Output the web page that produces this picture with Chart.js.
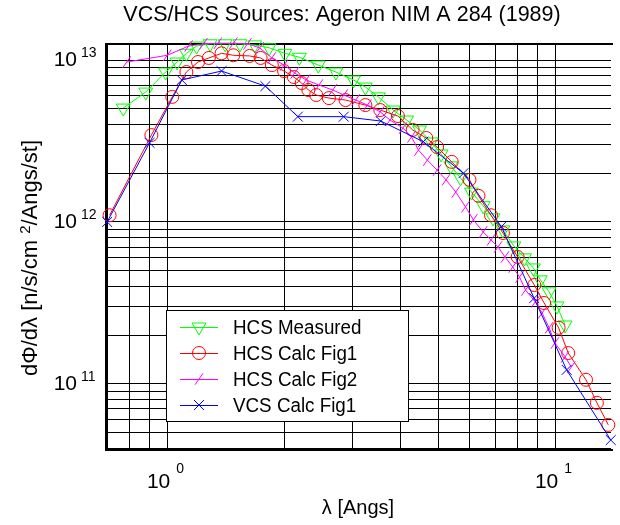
<!DOCTYPE html>
<html>
<head>
<meta charset="utf-8">
<script src="https://cdn.jsdelivr.net/npm/chart.js@4.4.0/dist/chart.umd.min.js"></script>
<style>
  html, body { margin: 0; padding: 0; background: #fff; }
</style>
</head>
<body>
<canvas id="myChart" width="620" height="525"></canvas>
<script>
// texts
const chartTitle = 'VCS/HCS Sources: Ageron NIM A 284 (1989)';
const xTitle = 'λ [Angs]';
const yTitleA = 'dΦ/dλ [n/s/cm ';
const yTitleSup = '2';
const yTitleB = '/Angs/st]';
const seriesNames = ['HCS Measured', 'HCS Calc Fig1', 'HCS Calc Fig2', 'VCS Calc Fig1'];

// axis ranges and labelled decades (10^n)
const xRange = [0.691, 13.92];
const yRange = [3.85e10, 1.274e13];
const xDecades = [0, 1];
const yDecades = [11, 12, 13];

// HCS Measured
const measLambda = [0.77, 0.88, 0.99, 1.06, 1.12, 1.19, 1.29, 1.41, 1.54, 1.68, 1.83, 2.01, 2.19, 2.45, 2.72, 3.02, 3.24, 3.50, 3.82, 4.14, 4.47, 4.79, 5.08, 5.38, 5.70, 6.08, 6.52, 6.91, 7.33, 7.82, 8.33, 8.78, 9.15, 9.64, 10.1, 10.6];
const measFlux = [5.05e12, 6.34e12, 8.43e12, 9.72e12, 1.10e13, 1.22e13, 1.26e13, 1.26e13, 1.26e13, 1.24e13, 1.19e13, 1.10e13, 1.04e13, 9.31e12, 8.43e12, 7.53e12, 6.81e12, 5.92e12, 4.91e12, 4.26e12, 3.70e12, 3.12e12, 2.63e12, 2.22e12, 1.87e12, 1.53e12, 1.26e12, 1.06e12, 8.93e11, 7.11e11, 6.00e11, 5.20e11, 4.39e11, 3.70e11, 3.03e11, 2.31e11];

// HCS Calc Fig1
const fig1Lambda = [0.71, 0.91, 1.03, 1.12, 1.20, 1.28, 1.38, 1.48, 1.63, 1.74, 1.86, 2.00, 2.12, 2.22, 2.31, 2.42, 2.61, 2.88, 3.24, 3.54, 3.93, 4.29, 4.65, 4.96, 5.41, 6.01, 6.34, 6.83, 7.33, 8.00, 8.83, 9.36, 10.2, 10.8, 12.0, 12.8, 13.7];
const fig1Flux = [1.10e12, 3.44e12, 5.92e12, 8.43e12, 9.72e12, 1.03e13, 1.10e13, 1.07e13, 1.06e13, 1.03e13, 9.31e12, 8.55e12, 7.85e12, 7.21e12, 6.53e12, 6.08e12, 5.82e12, 5.66e12, 5.27e12, 4.91e12, 4.51e12, 3.70e12, 3.30e12, 2.90e12, 2.35e12, 1.82e12, 1.45e12, 1.10e12, 8.55e11, 6.08e11, 4.08e11, 3.16e11, 2.22e11, 1.55e11, 1.06e11, 7.64e10, 5.58e10];

// HCS Calc Fig2
const fig2Lambda = [0.786, 1.00, 1.135, 1.24, 1.35, 1.48, 1.61, 1.73, 1.86, 2.00, 2.13, 2.28, 2.46, 2.67, 2.85, 3.06, 3.28, 3.54, 3.75, 4.05, 4.26, 4.44, 4.68, 4.96, 5.23, 5.54, 5.87, 6.15, 6.52, 6.83, 7.12, 7.42, 7.77, 8.09, 8.38, 8.88, 9.25, 9.64, 9.98, 10.6, 11.0];
const fig2Flux = [9.72e12, 1.07e13, 1.22e13, 1.26e13, 1.27e13, 1.27e13, 1.26e13, 1.19e13, 1.03e13, 9.31e12, 8.32e12, 7.53e12, 7.01e12, 6.53e12, 6.08e12, 5.66e12, 5.27e12, 4.78e12, 4.26e12, 3.80e12, 3.35e12, 2.78e12, 2.41e12, 2.09e12, 1.82e12, 1.53e12, 1.24e12, 1.03e12, 8.67e11, 7.74e11, 7.01e11, 6.08e11, 5.27e11, 4.57e11, 3.80e11, 3.21e11, 2.74e11, 2.22e11, 1.79e11, 1.47e11, 1.27e11];

// VCS Calc Fig1
const vcsLambda = [0.70, 0.90, 1.09, 1.38, 1.79, 2.17, 2.85, 3.55, 4.57, 5.80, 7.26, 8.82, 10.7, 13.9];
const vcsFlux = [1.00e12, 3.08e12, 7.53e12, 8.55e12, 6.90e12, 4.47e12, 4.47e12, 4.20e12, 3.13e12, 2.00e12, 9.36e11, 3.38e11, 1.22e11, 4.50e10];

function toPoints(xs, ys) {
  return xs.map((x, i) => ({ x: x, y: ys[i] }));
}

// every 1..9 x 10^n inside the range, like the old matlab log grid
function logTicks(min, max) {
  const ticks = [];
  for (let e = Math.floor(Math.log10(min)); e <= Math.ceil(Math.log10(max)); e++) {
    for (let m = 1; m <= 9; m++) {
      const v = m * Math.pow(10, e);
      if (v >= min && v <= max) ticks.push({ value: v });
    }
  }
  return ticks;
}

const FONT = '"Liberation Sans", Arial, Helvetica, sans-serif';

function drawMarker(ctx, ds, x, y) {
  ctx.save();
  ctx.strokeStyle = ds.borderColor;
  ctx.fillStyle = 'rgba(0,0,0,0)';
  ctx.lineWidth = 1;
  Chart.helpers.drawPoint(ctx, {
    pointStyle: ds.pointStyle,
    rotation: ds.pointRotation || 0,
    radius: ds.pointRadius,
    borderWidth: 1
  }, x, y);
  ctx.restore();
}

const decorations = {
  id: 'decorations',
  beforeDatasetsDraw(chart) {
    const ctx = chart.ctx;
    const a = chart.chartArea;
    ctx.save();
    ctx.strokeStyle = '#000';
    ctx.lineWidth = 2;
    ctx.beginPath();
    ctx.moveTo(a.right + 2, a.top + 1);
    ctx.lineTo(a.left + 1, a.top + 1);
    ctx.lineTo(a.left + 1, a.bottom - 1);
    ctx.lineTo(a.right + 2, a.bottom - 1);
    ctx.stroke();
    ctx.restore();
  },
  afterDatasetsDraw(chart) {
    // legend box
    const ctx = chart.ctx;
    const box = { x: 166.5, y: 310.5, w: 242, h: 111 };
    ctx.save();
    ctx.fillStyle = '#fff';
    ctx.fillRect(box.x, box.y, box.w, box.h);
    ctx.strokeStyle = '#000';
    ctx.lineWidth = 1;
    ctx.strokeRect(box.x, box.y, box.w, box.h);
    ctx.font = '20px ' + FONT;
    ctx.textBaseline = 'middle';
    ctx.textAlign = 'left';
    chart.data.datasets.forEach((ds, row) => {
      const y = 327 + row * 26;
      ctx.strokeStyle = ds.borderColor;
      ctx.lineWidth = 1;
      ctx.beginPath();
      ctx.moveTo(180, y + 0.5);
      ctx.lineTo(218, y + 0.5);
      ctx.stroke();
      drawMarker(ctx, ds, 199, y);
      ctx.fillStyle = '#000';
      ctx.save();
      ctx.translate(233, y + 1);
      ctx.scale(0.94, 1);
      ctx.fillText(ds.label, 0, 0);
      ctx.restore();
    });
    ctx.restore();
  },
  afterDraw(chart) {
    const ctx = chart.ctx;
    const xs = chart.scales.x;
    const ys = chart.scales.y;
    ctx.save();
    ctx.fillStyle = '#000';

    // title
    ctx.font = '21.5px ' + FONT;
    ctx.textAlign = 'center';
    ctx.textBaseline = 'middle';
    ctx.fillText(chartTitle, 342, 15);

    // y decade labels
    yDecades.forEach((e) => {
      const y = ys.getPixelForValue(Math.pow(10, e));
      ctx.font = '21px ' + FONT;
      ctx.textAlign = 'right';
      ctx.fillText('10', 77, y);
      ctx.font = '14px ' + FONT;
      ctx.textAlign = 'left';
      ctx.fillText(String(e), 81, y - 7);
    });

    // x decade labels
    xDecades.forEach((e) => {
      const x = xs.getPixelForValue(Math.pow(10, e));
      ctx.font = '21px ' + FONT;
      ctx.textAlign = 'right';
      ctx.fillText('10', x + 3, 482);
      ctx.font = '14px ' + FONT;
      ctx.textAlign = 'left';
      ctx.fillText(String(e), x + 9, 469);
    });

    // x title
    ctx.font = '20px ' + FONT;
    ctx.textAlign = 'center';
    ctx.fillText(xTitle, 358, 508);

    // y title, rotated, with superscript
    ctx.translate(31, 258);
    ctx.rotate(-Math.PI / 2);
    ctx.textAlign = 'left';
    ctx.font = '22px ' + FONT;
    const wA = ctx.measureText(yTitleA).width;
    const wB = ctx.measureText(yTitleB).width;
    ctx.font = '15px ' + FONT;
    const wS = ctx.measureText(yTitleSup).width;
    const start = -(wA + wS + wB) / 2;
    ctx.font = '22px ' + FONT;
    ctx.fillText(yTitleA, start, 0);
    ctx.font = '15px ' + FONT;
    ctx.fillText(yTitleSup, start + wA, -5);
    ctx.font = '22px ' + FONT;
    ctx.fillText(yTitleB, start + wA + wS, 0);
    ctx.restore();
  }
};

const ctx = document.getElementById('myChart');

new Chart(ctx, {
  type: 'line',
  data: {
    datasets: [
      {
        label: seriesNames[0],
        data: toPoints(measLambda, measFlux),
        borderColor: '#00ff00',
        pointStyle: 'triangle',
        pointRotation: 180,
        pointRadius: 8,
        order: 4
      },
      {
        label: seriesNames[1],
        data: toPoints(fig1Lambda, fig1Flux),
        borderColor: '#ff0000',
        pointStyle: 'circle',
        pointRadius: 6.5,
        order: 3
      },
      {
        label: seriesNames[2],
        data: toPoints(fig2Lambda, fig2Flux),
        borderColor: '#ff00ff',
        pointStyle: 'line',
        pointRotation: -55,
        pointRadius: 7,
        order: 2
      },
      {
        label: seriesNames[3],
        data: toPoints(vcsLambda, vcsFlux),
        borderColor: '#0000ff',
        pointStyle: 'crossRot',
        pointRadius: 7,
        order: 1
      }
    ].map((d) => Object.assign({
      borderWidth: 1,
      pointBorderColor: d.borderColor,
      pointBackgroundColor: 'rgba(0,0,0,0)',
      pointBorderWidth: 1,
      tension: 0,
      fill: false,
      clip: false
    }, d))
  },
  options: {
    responsive: false,
    animation: false,
    events: [],
    layout: { padding: { left: 105, right: 0, top: 43, bottom: 74 } },
    plugins: {
      legend: { display: false },
      title: { display: false },
      tooltip: { enabled: false }
    },
    scales: {
      x: {
        type: 'logarithmic',
        min: xRange[0],
        max: xRange[1],
        bounds: 'data',
        afterBuildTicks: (s) => { s.ticks = logTicks(s.min, s.max); },
        afterFit: (s) => { s.height = 0; },
        ticks: { display: false, autoSkip: false },
        grid: { color: '#000', lineWidth: 1, drawTicks: false },
        border: { display: false }
      },
      y: {
        type: 'logarithmic',
        min: yRange[0],
        max: yRange[1],
        bounds: 'data',
        afterBuildTicks: (s) => { s.ticks = logTicks(s.min, s.max); },
        afterFit: (s) => { s.width = 0; },
        ticks: { display: false, autoSkip: false },
        grid: { color: '#000', lineWidth: 1, drawTicks: false },
        border: { display: false }
      }
    }
  },
  plugins: [decorations]
});
</script>
</body>
</html>
